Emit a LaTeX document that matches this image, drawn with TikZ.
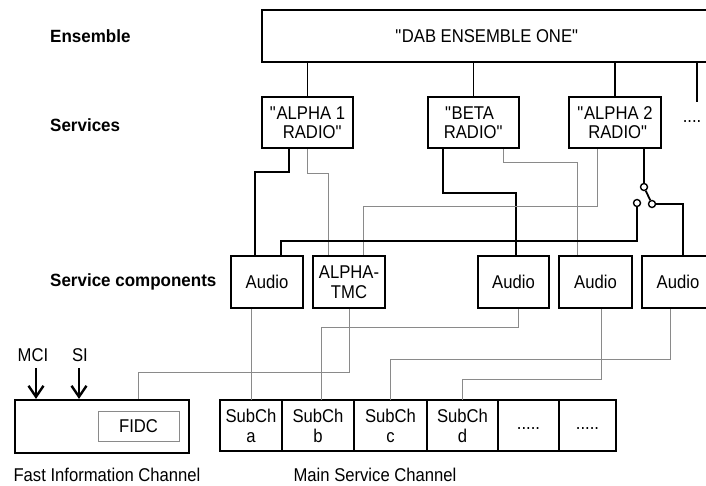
\documentclass[tikz,border=0pt]{standalone}
\usepackage{fontspec}
\setmainfont{Liberation Sans}[FakeStretch=0.9]
\newfontfamily\headfont{Liberation Sans}[FakeStretch=0.96]
\usetikzlibrary{arrows.meta}

\definecolor{linegray}{HTML}{8A8A8A}

\tikzset{
  box/.style={draw, line width=2.2pt, inner sep=0pt, minimum height=52pt, align=center,
    font=\fontsize{18.5}{19.5}\selectfont},
  cell/.style={draw, line width=1.3pt, outer sep=0pt, minimum height=51pt, inner sep=0pt,
    align=center, font=\fontsize{18.5}{20}\selectfont},
  head/.style={anchor=west, inner sep=0pt, font=\headfont\bfseries\fontsize{17.7}{20}\selectfont},
  txt/.style={inner sep=0pt, font=\fontsize{18.5}{20}\selectfont},
  conn/.style={line width=1.8pt},
  thin/.style={line width=0.9pt, draw=linegray},
  contact/.style={circle, draw, line width=1.4pt, fill=white, minimum size=7pt, inner sep=0pt},
  feed/.style={line width=2pt, -{Straight Barb[length=11pt,width=15pt,line width=2.4pt]}},
}

\begin{document}
\begin{tikzpicture}[x=1pt,y=-1pt]
\useasboundingbox (0,0) rectangle (706,485);
\clip (0,0) rectangle (706,485);

% level labels
\node[head] (lens) at (50,36) {Ensemble};
\node[head] (lsrv) at (50,125) {Services};
\node[head] (lcmp) at (50,282) {Service components};

% ensemble
\node[box, minimum width=450pt] (ens) at (487,36) {\textquotedbl DAB ENSEMBLE ONE\textquotedbl};

% services
\node[box, minimum width=91pt, minimum height=51pt] (a1) at (307.5,122.5)
  {\textquotedbl ALPHA 1\\ \hspace*{10pt}RADIO\textquotedbl};
\node[box, minimum width=91pt, minimum height=51pt] (beta) at (473.5,122.5)
  {\textquotedbl BETA\hspace*{8pt}\\ RADIO\textquotedbl};
\node[box, minimum width=92pt, minimum height=51pt] (a2) at (615,122.5)
  {\textquotedbl ALPHA 2\\ \hspace*{6pt}RADIO\textquotedbl};
\node[txt] (more) at (692,122) {....};

\foreach \s in {a1,beta,a2}
  \draw[conn] (\s.north) -- (\s.north |- ens.south);
\coordinate (moreend) at (697,102);
\draw[conn] (moreend |- ens.south) -- (moreend);

% service components
\node[box, minimum width=72pt] (au1) at (267,282) {Audio};
\node[box, minimum width=72pt] (tmc) at (349,282) {ALPHA-\\TMC};
\node[box, minimum width=71pt] (au3) at (513.5,282) {Audio};
\node[box, minimum width=73pt] (au4) at (595.5,282) {Audio};
\node[box, minimum width=72pt] (au5) at (678,282) {Audio};

% switch
\node[contact] (swp) at (644,187) {};
\node[contact] (swr) at (652,204) {};
\node[contact] (swl) at (637,203) {};

% services -> components
\draw[conn] ([xshift=-18.5pt]a1.south) -- ++(0,23) -| ([xshift=-12pt]au1.north);
\draw[thin] (a1.south) -- ++(0,24) -| ([xshift=-21pt]tmc.north);
\draw[conn] ([xshift=-30.5pt]beta.south) -- ++(0,44) -| ([xshift=2.5pt]au3.north);
\draw[thin] ([xshift=29.5pt]beta.south) -- ++(0,13) -| ([xshift=-18.5pt]au4.north);
\draw[thin] ([xshift=-18pt]a2.south) -- ++(0,57) -| ([xshift=14pt]tmc.north);
\draw[conn] ([xshift=29pt]a2.south) -- (swp);
\draw[conn] (swp) -- (swr);
\draw[conn] (swr.east) -| ([xshift=5pt]au5.north);
\draw[conn] (swl.south) -- ++(0,33.5) -| ([xshift=14pt]au1.north);

% fast information channel
\node[box, minimum width=174pt, minimum height=53pt] (fic) at (102,426.5) {};
\node[txt, draw=linegray, line width=1pt, minimum width=81pt, minimum height=30pt] (fidc) at (138.5,426) {FIDC};
\node[txt] (mci) at (33,355) {MCI};
\node[txt] (si) at (80,355) {SI};
\draw[feed] ([xshift=3pt,yshift=-6pt]mci.south) -- ([xshift=3pt]mci.south |- fic.north);
\draw[feed] ([xshift=-1pt,yshift=-6pt]si.south) -- ([xshift=-1pt]si.south |- fic.north);
\node[txt] (ficcap) at (107,475) {Fast Information Channel};

% main service channel
\node[cell, minimum width=62pt] (sa) at (251,425.5) {SubCh\\a};
\node[cell, minimum width=72pt] (sb) at (318,425.5) {SubCh\\b};
\node[cell, minimum width=73pt] (sc) at (390.5,425.5) {SubCh\\c};
\node[cell, minimum width=71pt] (sd) at (462.5,425.5) {SubCh\\d};
\node[cell, minimum width=61pt] (se) at (528.5,425.5) {\strut.....};
\node[cell, minimum width=57pt] (sf) at (587.5,425.5) {\strut.....};
\draw[line width=2.2pt] (sa.north west) rectangle (sf.south east);
\node[txt] (msccap) at (375,475) {Main Service Channel};

% components -> sub-channels
\draw[thin] (sa.north) -- (sa.north |- au1.south);
\draw[thin] (tmc.south) -- ++(0,63) -| ([xshift=36pt]fic.north);
\draw[thin] ([xshift=4.5pt]au3.south) -- ++(0,18) -| ([xshift=3pt]sb.north);
\draw[thin] ([xshift=-8pt]au5.south) -- ++(0,50) -| (sc.north);
\draw[thin] ([xshift=5.5pt]au4.south) -- ++(0,70) -| (sd.north);
\end{tikzpicture}
\end{document}
